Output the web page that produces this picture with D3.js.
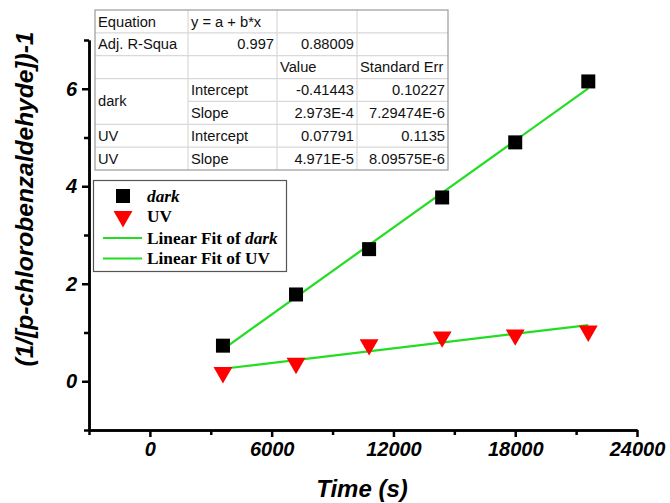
<!DOCTYPE html>
<html>
<head>
<meta charset="utf-8">
<script src="https://cdn.jsdelivr.net/npm/d3@7"></script>
<style>
	body { margin: 0; background: #fff; }
	svg { display: block; }
</style>
</head>
<body>
<svg id="chart" width="670" height="503"></svg>
<script>
// data
const timeS = [3600, 7200, 10800, 14400, 18000, 21600];
const darkValues = [0.73, 1.78, 2.71, 3.77, 4.90, 6.15];
const uvValues = [0.18, 0.37, 0.75, 0.91, 0.95, 1.03];

// linear fit parameters (dark, UV)
const fitIntercept = [-0.41443, 0.07791];
const fitSlope = [2.973e-4, 4.971e-5];

const xMajorTicks = [0, 6000, 12000, 18000, 24000];
const xMinorTicks = [-3000, 3000, 9000, 15000, 21000];
const yMajorTicks = [0, 2, 4, 6];
const yMinorTicks = [-1, 1, 3, 5, 7];

const legendLabels = ["dark", "UV", "Linear Fit of dark", "Linear Fit of UV"];

const tableRows = [
	["Equation", "y = a + b*x", "", ""],
	["Adj. R-Squa", "0.997", "0.88009", ""],
	["", "", "Value", "Standard Err"],
	["dark", "Intercept", "-0.41443", "0.10227"],
	["", "Slope", "2.973E-4", "7.29474E-6"],
	["UV", "Intercept", "0.07791", "0.1135"],
	["UV", "Slope", "4.971E-5", "8.09575E-6"]
];

const GREEN = "#22dd22";
const svg = d3.select("#chart");

const x = d3.scaleLinear().domain([-3000, 24000]).range([89, 637]);
const y = d3.scaleLinear().domain([-1, 7]).range([430, 40]);

// 坐标轴
function styleAxis(g) {
	g.selectAll("path.domain").attr("stroke", "#000").attr("stroke-width", 2.5);
	g.selectAll(".tick line").attr("stroke", "#000").attr("stroke-width", 2.5);
	g.selectAll("text")
		.attr("fill", "#000")
		.style("font-family", "Liberation Sans, Arial, sans-serif")
		.style("font-weight", "bold")
		.style("font-style", "italic")
		.style("font-size", "20px");
}

svg.append("g")
	.attr("transform", "translate(0,430)")
	.call(d3.axisBottom(x).tickValues(xMinorTicks).tickSize(5).tickSizeOuter(0).tickFormat(""))
	.call(styleAxis);
svg.append("g")
	.attr("transform", "translate(0,430)")
	.call(d3.axisBottom(x).tickValues(xMajorTicks).tickSize(7).tickSizeOuter(0).tickPadding(5).tickFormat(d3.format("d")))
	.call(styleAxis);

svg.append("g")
	.attr("transform", "translate(89,0)")
	.call(d3.axisLeft(y).tickValues(yMinorTicks).tickSize(5).tickSizeOuter(0).tickFormat(""))
	.call(styleAxis);
svg.append("g")
	.attr("transform", "translate(89,0)")
	.call(d3.axisLeft(y).tickValues(yMajorTicks).tickSize(7).tickSizeOuter(0).tickPadding(5).tickFormat(d3.format("d")))
	.call(styleAxis);

// axis titles
svg.append("text")
	.attr("x", 362)
	.attr("y", 497)
	.attr("text-anchor", "middle")
	.style("font-family", "Liberation Sans, Arial, sans-serif")
	.style("font-weight", "bold")
	.style("font-style", "italic")
	.style("font-size", "24px")
	.text("Time (s)");

svg.append("text")
	.attr("transform", "translate(33,199) rotate(-90)")
	.attr("text-anchor", "middle")
	.style("font-family", "Liberation Sans, Arial, sans-serif")
	.style("font-weight", "bold")
	.style("font-style", "italic")
	.style("font-size", "24.5px")
	.text("(1/[p-chlorobenzaldehyde])-1");

// fit lines
const line = d3.line().x(d => x(d[0])).y(d => y(d[1]));
fitIntercept.forEach((a, i) => {
	const b = fitSlope[i];
	const ends = d3.extent(timeS).map(t => [t, a + b * t]);
	svg.append("path")
		.attr("d", line(ends))
		.attr("fill", "none")
		.attr("stroke", GREEN)
		.attr("stroke-width", 2.2);
});

// markers
const squareSize = 14;
svg.append("g")
	.selectAll("rect")
	.data(timeS.map((t, i) => [t, darkValues[i]]))
	.join("rect")
	.attr("x", d => x(d[0]) - squareSize / 2)
	.attr("y", d => y(d[1]) - squareSize / 2)
	.attr("width", squareSize)
	.attr("height", squareSize)
	.attr("fill", "#000");

const tri = d3.symbol().type(d3.symbolTriangle).size(155);
svg.append("g")
	.selectAll("path")
	.data(timeS.map((t, i) => [t, uvValues[i]]))
	.join("path")
	.attr("d", tri)
	.attr("transform", d => `translate(${x(d[0])},${y(d[1])}) rotate(180)`)
	.attr("fill", "#ff0000");

// 参数表
const colX = [95, 188, 277, 357, 448];
const rowY = d3.range(tableRows.length + 1).map(i => 10 + i * 22.86);
const tbl = svg.append("g")
	.style("font-family", "Liberation Sans, Arial, sans-serif")
	.style("font-size", "14.7px");

tbl.append("rect")
	.attr("x", colX[0]).attr("y", rowY[0])
	.attr("width", colX[4] - colX[0]).attr("height", rowY[rowY.length - 1] - rowY[0])
	.attr("fill", "#fff");

// inner grid
for (let r = 1; r < tableRows.length; r++) {
	// the "dark" cell spans two rows
	const startCol = (r === 4) ? 1 : 0;
	tbl.append("line")
		.attr("x1", colX[startCol]).attr("x2", colX[4])
		.attr("y1", rowY[r]).attr("y2", rowY[r])
		.attr("stroke", "#d9d9d9").attr("stroke-width", 1.2);
}
for (let c = 1; c < 4; c++) {
	tbl.append("line")
		.attr("x1", colX[c]).attr("x2", colX[c])
		.attr("y1", rowY[0]).attr("y2", rowY[rowY.length - 1])
		.attr("stroke", "#d9d9d9").attr("stroke-width", 1.2);
}
tbl.append("rect")
	.attr("x", colX[0]).attr("y", rowY[0])
	.attr("width", colX[4] - colX[0]).attr("height", rowY[rowY.length - 1] - rowY[0])
	.attr("fill", "none")
	.attr("stroke", "#9a9a9a").attr("stroke-width", 1.2);

const isNumber = s => /^-?[0-9.]+(E-?[0-9]+)?$/.test(s);
tableRows.forEach((row, r) => {
	row.forEach((cell, c) => {
		if (!cell) return;
		if (r === 3 && c === 0) {
			tbl.append("text")
				.attr("x", colX[0] + 3)
				.attr("y", rowY[4] + 5)
				.attr("fill", "#111")
				.text(cell);
			return;
		}
		const num = isNumber(cell);
		tbl.append("text")
			.attr("x", num ? colX[c + 1] - 3 : colX[c] + 3)
			.attr("y", rowY[r] + 16.5)
			.attr("text-anchor", num ? "end" : "start")
			.attr("fill", "#111")
			.text(cell);
	});
});

// legend
const lg = svg.append("g")
	.style("font-family", "Liberation Serif, Times New Roman, serif")
	.style("font-weight", "bold")
	.style("font-size", "17.3px");
lg.append("rect")
	.attr("x", 93.5).attr("y", 180.5)
	.attr("width", 193).attr("height", 91)
	.attr("fill", "#fff")
	.attr("stroke", "#555").attr("stroke-width", 1.2);

const legendY = [196, 216.5, 238, 258.5];
lg.append("rect")
	.attr("x", 123 - squareSize / 2).attr("y", legendY[0] - squareSize / 2)
	.attr("width", squareSize).attr("height", squareSize)
	.attr("fill", "#000");
lg.append("path")
	.attr("d", tri)
	.attr("transform", `translate(123,${legendY[1]}) rotate(180)`)
	.attr("fill", "#ff0000");
[2, 3].forEach(i => {
	lg.append("line")
		.attr("x1", 103).attr("x2", 142)
		.attr("y1", legendY[i]).attr("y2", legendY[i])
		.attr("stroke", GREEN).attr("stroke-width", 2.2);
});

legendLabels.forEach((label, i) => {
	const t = lg.append("text")
		.attr("x", 147)
		.attr("y", legendY[i] + 5.5);
	// "dark" is set in italics
	const parts = label.split(/(dark)/).filter(p => p);
	parts.forEach(p => {
		t.append("tspan")
			.style("font-style", p === "dark" ? "italic" : "normal")
			.text(p);
	});
});
</script>
</body>
</html>
